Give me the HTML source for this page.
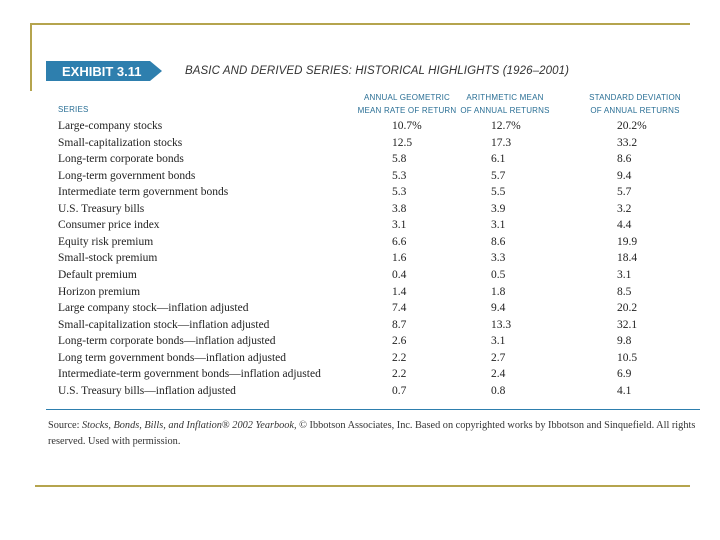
<!DOCTYPE html>
<html><head><meta charset="utf-8"><style>
body{margin:0;width:720px;height:540px;background:#fff;position:relative;overflow:hidden;font-family:"Liberation Serif",serif;color:#222}
.abs{position:absolute}
.sc{font-family:"Liberation Sans",sans-serif;font-size:8px;color:#2a6f95;text-transform:uppercase;letter-spacing:0.2px;white-space:nowrap}
.row{position:absolute;font-size:11.5px;white-space:nowrap;line-height:13px}
</style></head><body>
<div class="abs" style="left:30px;top:23px;width:660px;height:2px;background:#b5a44e"></div>
<div class="abs" style="left:30px;top:23px;width:2px;height:68px;background:#b5a44e"></div>
<div class="abs" style="left:35px;top:485px;width:655px;height:2px;background:#b5a44e"></div>
<svg class="abs" style="left:46px;top:61px" width="120" height="20"><polygon points="0,0 104,0 116,10 104,20 0,20" fill="#2e7fae"/><text x="16" y="15" font-family="Liberation Sans,sans-serif" font-weight="bold" font-size="13" fill="#fff">EXHIBIT 3.11</text></svg>
<div class="abs" style="left:185px;top:65px;font-family:'Liberation Sans',sans-serif;font-style:italic;font-size:11.5px;color:#333;letter-spacing:0.1px">BASIC AND DERIVED SERIES: HISTORICAL HIGHLIGHTS (1926–2001)</div>
<div class="abs sc" style="left:58px;top:105px">Series</div>
<div class="abs sc" style="left:355px;top:91px;width:104px;text-align:center;line-height:13px">Annual Geometric<br>Mean Rate of Return</div>
<div class="abs sc" style="left:455px;top:91px;width:100px;text-align:center;line-height:13px">Arithmetic Mean<br>of Annual Returns</div>
<div class="abs sc" style="left:580px;top:91px;width:110px;text-align:center;line-height:13px">Standard Deviation<br>of Annual Returns</div>
<div id="rows"></div>
<div class="abs" style="left:46px;top:409px;width:654px;height:1px;background:#2e7fae"></div>
<div class="abs" style="left:48px;top:418px;width:650px;font-size:10.3px;line-height:16px;color:#333">Source: <i>Stocks, Bonds, Bills, and Inflation</i>® <i>2002 Yearbook,</i> © Ibbotson Associates, Inc. Based on copyrighted works by Ibbotson and Sinquefield. All rights reserved. Used with permission.</div>
<script>
const series=["Large-company stocks","Small-capitalization stocks","Long-term corporate bonds","Long-term government bonds","Intermediate term government bonds","U.S. Treasury bills","Consumer price index","Equity risk premium","Small-stock premium","Default premium","Horizon premium","Large company stock—inflation adjusted","Small-capitalization stock—inflation adjusted","Long-term corporate bonds—inflation adjusted","Long term government bonds—inflation adjusted","Intermediate-term government bonds—inflation adjusted","U.S. Treasury bills—inflation adjusted"];
const geoMean=["10.7%","12.5","5.8","5.3","5.3","3.8","3.1","6.6","1.6","0.4","1.4","7.4","8.7","2.6","2.2","2.2","0.7"];
const arithMean=["12.7%","17.3","6.1","5.7","5.5","3.9","3.1","8.6","3.3","0.5","1.8","9.4","13.3","3.1","2.7","2.4","0.8"];
const stdDev=["20.2%","33.2","8.6","9.4","5.7","3.2","4.4","19.9","18.4","3.1","8.5","20.2","32.1","9.8","10.5","6.9","4.1"];
const host=document.getElementById('rows');
const rowY=i=>120+i*16.55;
series.forEach((s,i)=>{
  const y=rowY(i);
  const a=document.createElement('div');a.className='row';a.style.left='58px';a.style.top=y+'px';a.textContent=s;
  
  
  host.appendChild(a);
  [[geoMean,392],[arithMean,491],[stdDev,617]].forEach(([arr,x])=>{
    const c=document.createElement('div');c.className='row';c.style.left=x+'px';c.style.top=y+'px';c.textContent=arr[i];
    
    
    host.appendChild(c);
  });
});
</script>
</body></html>
